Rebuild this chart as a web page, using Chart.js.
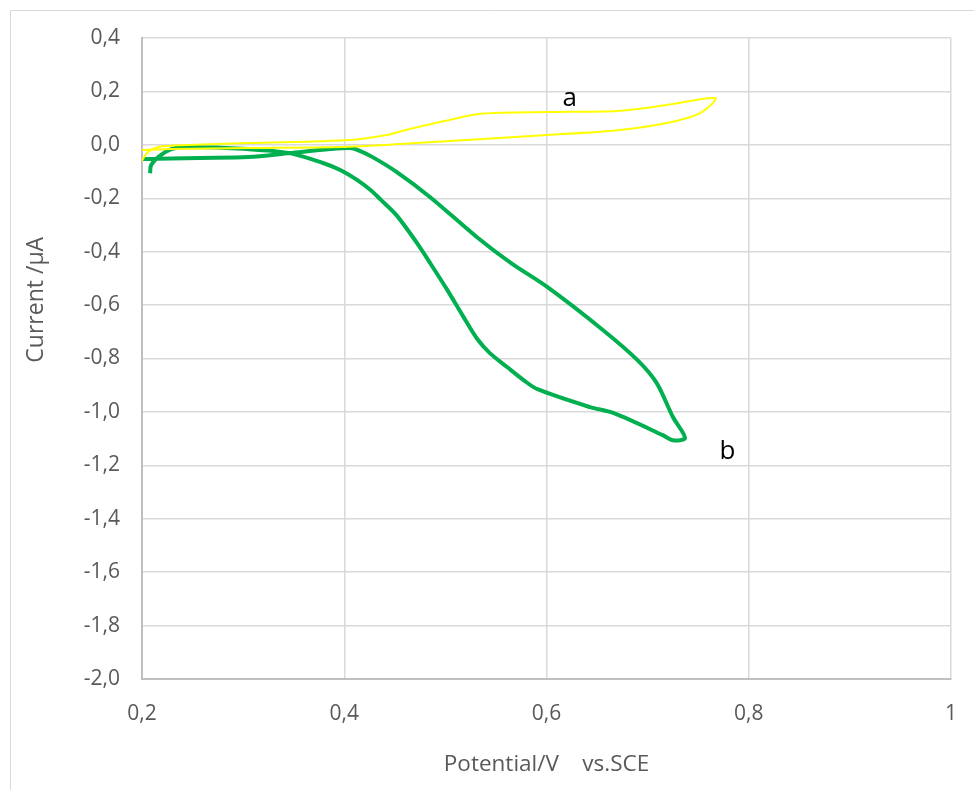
<!DOCTYPE html>
<html>
<head>
<meta charset="utf-8">
<script src="https://cdn.jsdelivr.net/npm/chart.js@4"></script>
<style>
  html, body { margin: 0; padding: 0; background: #fff; }
  #wrap { width: 974px; height: 790px; position: relative; }
</style>
</head>
<body>
<div id="wrap"><canvas id="cv" width="974" height="790"></canvas></div>
<script>
// curve a (yellow)
const potentialA = [0.199, 0.229, 0.305, 0.396, 0.455, 0.521, 0.601, 0.670, 0.719, 0.752, 0.767,
                    0.719, 0.670, 0.601, 0.537, 0.498, 0.455, 0.445, 0.406, 0.305, 0.245, 0.216, 0.206, 0.199];
const currentA   = [-0.019, -0.016, -0.012, -0.008, 0.003, 0.018, 0.037, 0.055, 0.082, 0.119, 0.175,
                    0.149, 0.127, 0.123, 0.117, 0.088, 0.050, 0.039, 0.018, 0.007, -0.001, -0.008, -0.027, -0.064];

// curve b (green)
const potentialB = [0.201, 0.257, 0.305, 0.346, 0.386, 0.406, 0.413, 0.428, 0.452, 0.485, 0.531, 0.565, 0.601,
                    0.656, 0.690, 0.709, 0.725, 0.737, 0.725, 0.715, 0.666, 0.643, 0.591, 0.577, 0.561,
                    0.544, 0.531, 0.518, 0.502, 0.485, 0.472, 0.452, 0.436, 0.426, 0.413, 0.396, 0.379,
                    0.346, 0.305, 0.245, 0.229, 0.216, 0.209, 0.208];
const currentB   = [-0.053, -0.049, -0.046, -0.031, -0.016, -0.012, -0.019, -0.046, -0.102, -0.196, -0.345, -0.443, -0.533,
                    -0.694, -0.806, -0.892, -1.019, -1.098, -1.106, -1.087, -1.004, -0.982, -0.915, -0.880, -0.832,
                    -0.780, -0.724, -0.645, -0.544, -0.443, -0.368, -0.265, -0.205, -0.169, -0.132, -0.094, -0.068,
                    -0.031, -0.016, -0.008, -0.016, -0.046, -0.076, -0.106];

const curveLabels = [
  { text: 'a', x: 0.623, y: 0.175 },
  { text: 'b', x: 0.779, y: -1.147 }
];

const xTitle = 'Potential/V    vs.SCE';
const yTitle = 'Current /µA';

const FONT = '"Open Sans", "DejaVu Sans", sans-serif';

function zip(xs, ys) {
  return xs.map((x, i) => ({ x: x, y: ys[i] }));
}

function commaLabel(v) {
  if (Math.abs(v) < 1e-9) return '0,0';
  if (Math.abs(v - 1) < 1e-9) return '1';
  return v.toFixed(1).replace('.', ',');
}

const extras = {
  id: 'extras',
  beforeDraw(chart) {
    const ctx = chart.ctx;
    ctx.save();
    ctx.strokeStyle = '#d9d9d9';
    ctx.lineWidth = 1;
    ctx.beginPath();
    ctx.moveTo(10.5, 790);
    ctx.lineTo(10.5, 10.5);
    ctx.lineTo(974, 10.5);
    ctx.stroke();
    ctx.restore();
  },
  afterDraw(chart) {
    const ctx = chart.ctx;
    const xs = chart.scales.x, ys = chart.scales.y;
    ctx.save();
    ctx.fillStyle = '#000';
    ctx.font = '26px ' + FONT;
    ctx.textAlign = 'center';
    ctx.textBaseline = 'middle';
    curveLabels.forEach(l => {
      ctx.fillText(l.text, xs.getPixelForValue(l.x), ys.getPixelForValue(l.y));
    });
    // y axis title
    ctx.fillStyle = '#595959';
    ctx.font = '23px ' + FONT;
    ctx.translate(36, ys.getPixelForValue(-0.58));
    ctx.rotate(-Math.PI / 2);
    ctx.fillText(yTitle, 0, 0);
    ctx.restore();
  }
};

new Chart(document.getElementById('cv'), {
  type: 'scatter',
  data: {
    datasets: [
      {
        label: 'a',
        data: zip(potentialA, currentA),
        showLine: true,
        borderColor: '#ffff00',
        borderWidth: 2,
        pointRadius: 0,
        tension: 0.3
      },
      {
        label: 'b',
        data: zip(potentialB, currentB),
        showLine: true,
        borderColor: '#00b050',
        borderWidth: 4,
        pointRadius: 0,
        tension: 0.3
      }
    ]
  },
  options: {
    responsive: false,
    animation: false,
    layout: { padding: { left: 0, top: 38, right: 23, bottom: 0 } },
    plugins: { legend: { display: false }, tooltip: { enabled: false } },
    scales: {
      x: {
        type: 'linear',
        min: 0.2,
        max: 1,
        afterFit: s => { s.height = 111; s.paddingLeft = 0; s.paddingRight = 0; },
        ticks: {
          stepSize: 0.2,
          padding: 22,
          color: '#595959',
          font: { family: FONT, size: 21 },
          maxRotation: 0,
          callback: v => commaLabel(v)
        },
        grid: { color: '#d9d9d9', lineWidth: 1.5, drawTicks: false },
        border: { color: '#bfbfbf', width: 2 },
        title: {
          display: true,
          text: xTitle,
          color: '#595959',
          font: { family: FONT, size: 22.5 },
          padding: { top: 0, bottom: 12 }
        }
      },
      y: {
        type: 'linear',
        min: -2,
        max: 0.4,
        afterFit: s => { s.width = 142; },
        ticks: {
          stepSize: 0.2,
          padding: 22,
          color: '#595959',
          font: { family: FONT, size: 21 },
          callback: v => commaLabel(v)
        },
        grid: { color: '#d9d9d9', lineWidth: 1.5, drawTicks: false },
        border: { color: '#bfbfbf', width: 2 }
      }
    }
  },
  plugins: [extras]
});
</script>
</body>
</html>
